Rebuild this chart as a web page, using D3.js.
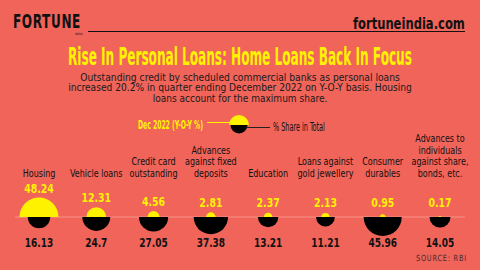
<!DOCTYPE html>
<html>
<head>
<meta charset="utf-8">
<script src="https://cdn.jsdelivr.net/npm/d3@7"></script>
<style>
  body { margin: 0; background: #f0645a; }
  text { font-family: "DejaVu Sans Condensed", "DejaVu Sans", sans-serif; }
</style>
</head>
<body>
<div id="chart"></div>
<script>
var categories = ["Housing", "Vehicle loans", "Credit card outstanding", "Advances against fixed deposits",
                  "Education", "Loans against gold jewellery", "Consumer durables",
                  "Advances to individuals against share, bonds, etc."]
var labelLines = [["Housing"], ["Vehicle loans"], ["Credit card", "outstanding"],
                  ["Advances", "against fixed", "deposits"], ["Education"],
                  ["Loans against", "gold jewellery"], ["Consumer", "durables"],
                  ["Advances to", "individuals", "against share,", "bonds, etc."]]
var yoy = [48.24, 12.31, 4.56, 2.81, 2.37, 2.13, 0.95, 0.17]
var share = [16.13, 24.7, 27.05, 37.38, 13.21, 11.21, 45.96, 14.05]
var subtitle = ["Outstanding credit by scheduled commercial banks as personal loans",
                "increased 20.2% in quarter ending December 2022 on Y-O-Y basis. Housing",
                "loans account for the maximum share."]

const W = 480, H = 270
const BASE = 217
const YELLOW = "#fff200"

const svg = d3.select("#chart").append("svg")
    .attr("width", W).attr("height", H)

svg.append("rect").attr("width", W).attr("height", H).attr("fill", "#f0645a")

// squeeze a text horizontally so it spans width px, starting at x (or centred on x)
function fit(parent, str, x, y, width, size, opts) {
    opts = opts || {}
    var g = parent.append("g")
    var t = g.append("text").text(str)
        .style("font-size", size + "px")
        .style("font-weight", opts.weight || "normal")
        .style("font-family", opts.family || null)
        .style("letter-spacing", opts.spacing || null)
        .attr("fill", opts.fill || "#111")
        .attr("text-anchor", opts.anchor || "start")
    var w = t.node().getComputedTextLength()
    g.attr("transform", "translate(" + x + "," + y + ") scale(" + (width / w) + ",1)")
    return t
}

// header
fit(svg, "FORTUNE", 13, 28, 68, 19, { weight: "bold", family: "DejaVu Sans", spacing: "1px" })
svg.append("text").attr("x", 75).attr("y", 35).text("INDIA")
    .style("font-size", "3px").attr("fill", "#111")
svg.append("line").attr("x1", 88).attr("x2", 465).attr("y1", 31.5).attr("y2", 31.5)
    .attr("stroke", "#111").attr("stroke-width", 1)
fit(svg, "fortuneindia.com", 353, 29, 112, 15, { weight: "bold", family: "DejaVu Sans" })

// title
fit(svg, "Rise In Personal Loans: Home Loans Back In Focus", 68, 65, 344, 24,
    { weight: "bold", family: "DejaVu Sans", fill: YELLOW })

// subtitle
var subW = [320, 344, 175]
subtitle.forEach((s, i) => fit(svg, s, 240, 80.5 + i * 10.9, subW[i], 10.8,
    { anchor: "middle", family: "DejaVu Sans", fill: "#1a1a1a" }))

const r = d3.scaleSqrt().domain([0, d3.max(yoy)]).range([0, 19.5])
const x = d3.scalePoint().domain(categories).range([39, 440])
const topArc = d3.arc().innerRadius(0).startAngle(-Math.PI / 2).endAngle(Math.PI / 2)
const botArc = d3.arc().innerRadius(0).startAngle(Math.PI / 2).endAngle(3 * Math.PI / 2)

// legend
const lg = svg.append("g").attr("transform", "translate(239,125)")
lg.append("path").attr("d", topArc.outerRadius(10)()).attr("fill", YELLOW)
lg.append("path").attr("d", botArc.outerRadius(8.5)()).attr("fill", "#000")
svg.append("line").attr("x1", 207).attr("x2", 230).attr("y1", 122.5).attr("y2", 122.5)
    .attr("stroke", YELLOW).attr("stroke-width", 1)
svg.append("line").attr("x1", 246).attr("x2", 270).attr("y1", 127.5).attr("y2", 127.5)
    .attr("stroke", "#222").attr("stroke-width", 1)
fit(svg, "Dec 2022 (Y-O-Y %)", 138, 129, 65, 12, { weight: "bold", fill: YELLOW })
fit(svg, "% Share in Total", 273, 131, 52, 12, { fill: "#111" })

// baseline
svg.append("line").attr("x1", 15).attr("x2", 465).attr("y1", BASE).attr("y2", BASE)
    .attr("stroke", "#f79385").attr("stroke-width", 1)

const cols = svg.selectAll(".col").data(categories).enter().append("g")
    .attr("transform", d => "translate(" + x(d) + "," + BASE + ")")

cols.append("path").attr("d", (d, i) => topArc.outerRadius(r(yoy[i]))()).attr("fill", YELLOW)
cols.append("path").attr("d", (d, i) => botArc.outerRadius(r(share[i]))()).attr("fill", "#000")

// value labels, condensed
cols.append("g")
    .attr("transform", (d, i) => "translate(0," + (Math.min(-15, -r(yoy[i]) - 10) + 5) + ") scale(0.8,1)")
  .append("text")
    .attr("text-anchor", "middle")
    .style("font-size", "13px").style("font-weight", "bold").attr("fill", YELLOW)
    .text((d, i) => yoy[i])

cols.append("g").attr("transform", "translate(0,30) scale(0.8,1)")
  .append("text")
    .attr("text-anchor", "middle")
    .style("font-size", "12.5px").style("font-weight", "bold").attr("fill", "#111")
    .text((d, i) => share[i])

cols.each(function (d, i) {
    var lines = labelLines[i]
    d3.select(this).append("g").attr("transform", "scale(0.85,1)")
      .selectAll("text").data(lines).enter().append("text")
        .attr("text-anchor", "middle")
        .attr("y", (t, j) => -40 - (lines.length - 1 - j) * 11.7)
        .style("font-size", "10.5px").attr("fill", "#111")
        .text(t => t)
})

fit(svg, "SOURCE: RBI", 416, 261, 51, 8.5, { family: "DejaVu Sans", spacing: "1px", fill: "#4a2a2a" })
</script>
</body>
</html>
